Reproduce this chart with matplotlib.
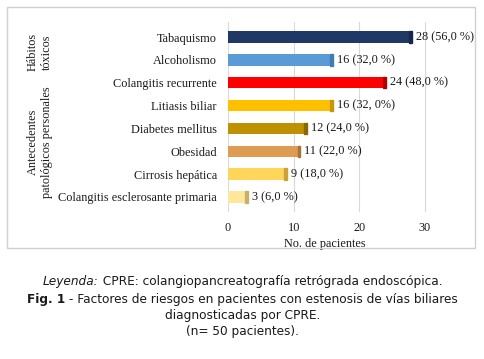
import matplotlib
matplotlib.use("Agg")
import matplotlib.pyplot as plt
from matplotlib.patches import Rectangle

categories = [
    "Tabaquismo", "Alcoholismo", "Colangitis recurrente", "Litiasis biliar",
    "Diabetes mellitus", "Obesidad", "Cirrosis hepática",
    "Colangitis esclerosante primaria",
]
values = [28, 16, 24, 16, 12, 11, 9, 3]
value_labels = [
    "28 (56,0 %)", "16 (32,0 %)", "24 (48,0 %)", "16 (32, 0%)",
    "12 (24,0 %)", "11 (22,0 %)", "9 (18,0 %)", "3 (6,0 %)",
]
colors = ["#1F3864", "#5B9BD5", "#FF0000", "#FFC000",
          "#BF9000", "#DE9B52", "#FFD55A", "#FFE699"]
edge_colors = ["#15274a", "#3f7bb5", "#b00000", "#c99500",
               "#8a6800", "#a8733a", "#c9a33a", "#c9b066"]
xticks = [0, 10, 20, 30]
groups = ["Hábitos\ntóxicos", "Antecedentes\npatológicos personales"]

SERIF = "Liberation Serif"
TXT = "#1a1a1a"
W, H = 485, 359

fig = plt.figure(figsize=(W / 100, H / 100), dpi=100)
ax = fig.add_axes([228 / W, 1 - 212 / H, 210 / W, 190 / H])

ypos = list(range(len(categories)))
ax.barh(ypos, values, height=0.5, color=colors, zorder=3)
# darker end face, like the 3D bars in the original
for y, v, ec in zip(ypos, values, edge_colors):
    ax.add_patch(Rectangle((v - 0.4, y - 0.25), 0.4, 0.5, color=ec, zorder=4))
for y, v, lab in zip(ypos, values, value_labels):
    ax.annotate(lab, (v, y), xytext=(3, 0), textcoords="offset points",
                va="center", ha="left", fontsize=8.8, family=SERIF, color=TXT)

ax.set_xlim(0, 32)
ax.set_ylim(len(categories) - 1 + 0.66, -0.66)
ax.set_xticks(xticks)
ax.set_yticks(ypos)
ax.set_yticklabels(categories, family=SERIF, fontsize=8.8, color=TXT)
ax.set_xticklabels([str(t) for t in xticks], family=SERIF, fontsize=8.8, color=TXT)
ax.tick_params(length=0)
ax.tick_params(axis="y", pad=8)
ax.tick_params(axis="x", pad=7)
ax.grid(axis="x", color="#d9d9d9", lw=0.8, zorder=0)
for s in ax.spines.values():
    s.set_visible(False)
ax.set_xlabel("No. de pacientes", family=SERIF, fontsize=8.8, color=TXT)
ax.xaxis.set_label_coords((325 - 228) / 210, -0.135)

# group labels on the left
fig.text(40 / W, 1 - 52 / H, groups[0], rotation=90, ha="center", va="center",
         multialignment="center", family=SERIF, fontsize=8.8, color=TXT,
         linespacing=1.25)
fig.text(40 / W, 1 - 142 / H, groups[1], rotation=90, ha="center", va="center",
         multialignment="center", family=SERIF, fontsize=8.8, color=TXT,
         linespacing=1.25)

# chart frame
fig.patches.append(Rectangle((7 / W, 1 - 248 / H), 468 / W, 241 / H,
                             transform=fig.transFigure, fill=False,
                             edgecolor="#d0d0d0", lw=1))

# caption below the chart (mixed styles on one line)
renderer = fig.canvas.get_renderer()


def mixed_line(parts, ycen, size=8.7):
    texts = []
    for txt, style, weight in parts:
        t = fig.text(0, 1 - ycen / H, txt, fontsize=size, style=style,
                     weight=weight, va="center", ha="left", color=TXT,
                     family="DejaVu Sans")
        texts.append(t)
    widths = [t.get_window_extent(renderer).width for t in texts]
    x = (W - sum(widths)) / 2
    for t, w in zip(texts, widths):
        t.set_x(x / W)
        x += w


mixed_line([("Leyenda:", "italic", "normal"),
            (" CPRE: colangiopancreatografía retrógrada endoscópica.", "normal", "normal")], 282)
mixed_line([("Fig. 1", "normal", "bold"),
            (" - Factores de riesgos en pacientes con estenosis de vías biliares", "normal", "normal")], 299)
mixed_line([("diagnosticadas por CPRE.", "normal", "normal")], 315)
mixed_line([("(n= 50 pacientes).", "normal", "normal")], 332)

fig.savefig("out.png", dpi=100)
